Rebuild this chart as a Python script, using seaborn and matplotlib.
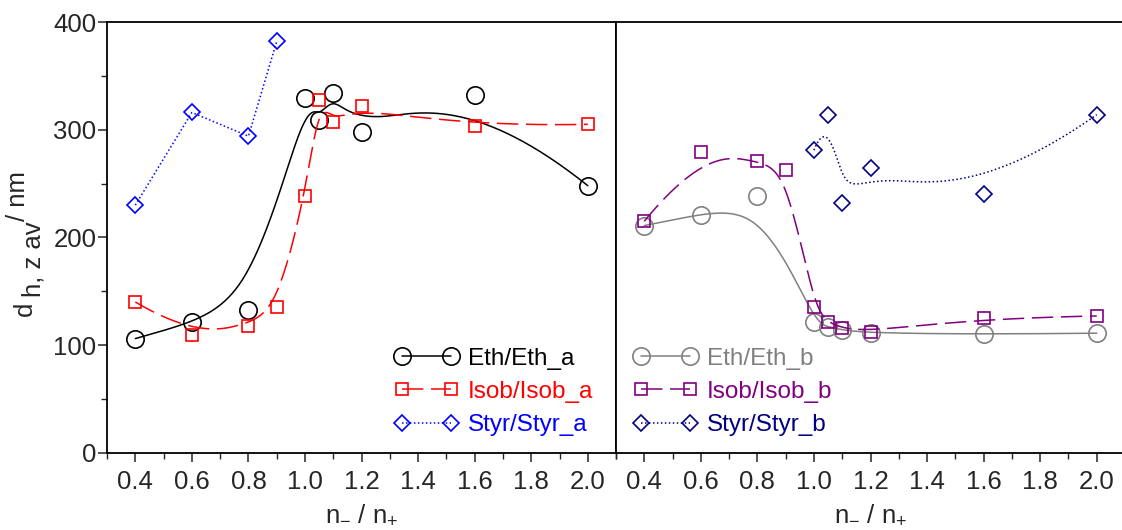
import numpy as np
import matplotlib
matplotlib.use('Agg')
import matplotlib.pyplot as plt
from matplotlib.lines import Line2D
from matplotlib.ticker import MultipleLocator
import seaborn as sns

# ─── Data ────────────────────────────────────────────────────────────────────
x_eth_a = [0.4, 0.6, 0.8, 1.0, 1.05, 1.1, 1.2, 1.6, 2.0]
d_eth_a = [106, 121, 133, 329, 309, 334, 298, 332, 248]
x_isob_a = [0.4, 0.6, 0.8, 0.9, 1.0, 1.05, 1.1, 1.2, 1.6, 2.0]
d_isob_a = [140, 109, 118, 135, 238, 328, 307, 322, 303, 305]
x_styr_a = [0.4, 0.6, 0.8, 0.9]
d_styr_a = [230, 316, 294, 382]

x_eth_b = [0.4, 0.6, 0.8, 1.0, 1.05, 1.1, 1.2, 1.6, 2.0]
d_eth_b = [211, 221, 238, 121, 117, 114, 111, 110, 111]
x_isob_b = [0.4, 0.6, 0.8, 0.9, 1.0, 1.05, 1.1, 1.2, 1.6, 2.0]
d_isob_b = [215, 279, 271, 263, 135, 121, 116, 112, 125, 127]
x_styr_b = [1.0, 1.05, 1.1, 1.2, 1.6, 2.0]
d_styr_b = [281, 314, 232, 264, 240, 314]

x_ticks = [0.4, 0.6, 0.8, 1.0, 1.2, 1.4, 1.6, 1.8, 2.0]
y_ticks = [0, 100, 200, 300, 400]


# B-spline connection (data points used as control points)
def bspline(x, y, n=400, k=3):
    pts = np.column_stack([x, y]).astype(float)
    m = len(pts)
    k = min(k, m - 1)
    knots = np.r_[np.zeros(k), np.arange(m - k + 1), np.full(k, m - k)].astype(float)
    t = np.linspace(0, m - k, n)
    B = np.array([(knots[i] <= t) & (t < knots[i + 1])
                  for i in range(len(knots) - 1)], float).T
    B[-1, m - 1] = 1.0
    for d in range(1, k + 1):
        nb = np.zeros((n, len(knots) - 1 - d))
        for i in range(len(knots) - 1 - d):
            a = knots[i + d] - knots[i]
            b = knots[i + d + 1] - knots[i + 1]
            if a > 0:
                nb[:, i] += (t - knots[i]) / a * B[:, i]
            if b > 0:
                nb[:, i] += (knots[i + d + 1] - t) / b * B[:, i + 1]
        B = nb
    c = B @ pts
    return c[:, 0], c[:, 1]


# ─── Style ────────────────────────────────────────────────────────────────────
sns.set_theme(style='ticks')
plt.rcParams.update({
    'font.family': ['Liberation Sans', 'DejaVu Sans'],
    'mathtext.fontset': 'custom',
    'mathtext.rm': 'Liberation Sans',
    'mathtext.it': 'Liberation Sans',
    'axes.linewidth': 1.3,
    'axes.edgecolor': 'black',
})

FS = 18.5
DASH = (14, 5)
DOT = (1, 1.6)

series_a = [
    ('Eth/Eth_a', x_eth_a, d_eth_a, 'black', 'o', 12.5, '-', None, True),
    ('Isob/Isob_a', x_isob_a, d_isob_a, '#FF0000', 's', 8.5, '--', DASH, True),
    ('Styr/Styr_a', x_styr_a, d_styr_a, '#0000FF', 'D', 8.2, ':', DOT, False),
]
series_b = [
    ('Eth/Eth_b', x_eth_b, d_eth_b, '#808080', 'o', 12.5, '-', None, True),
    ('Isob/Isob_b', x_isob_b, d_isob_b, '#800080', 's', 8.5, '--', DASH, True),
    ('Styr/Styr_b', x_styr_b, d_styr_b, '#000080', 'D', 8.2, ':', DOT, True),
]

fig = plt.figure(figsize=(11.22, 5.30), dpi=100)
ax1 = fig.add_axes([0.0954, 0.1458, 0.4537, 0.8126])
ax2 = fig.add_axes([0.549, 0.1458, 0.4537, 0.8126])

for ax, series in [(ax1, series_a), (ax2, series_b)]:
    handles = []
    for label, xs, ys, c, mk, ms, ls, dash, smooth in series:
        if smooth:
            cx, cy = bspline(xs, ys)
        else:
            cx, cy = np.array(xs, float), np.array(ys, float)
        kw = dict(dashes=dash) if dash else {}
        sns.lineplot(x=cx, y=cy, ax=ax, sort=False, estimator=None, color=c,
                     linewidth=1.1, **kw)
        sns.lineplot(x=xs, y=ys, ax=ax, sort=False, estimator=None,
                     linestyle='none', marker=mk, markersize=ms,
                     markerfacecolor='none', markeredgecolor=c,
                     markeredgewidth=1.2, color=c)
        h = Line2D([], [], color=c, linewidth=1.1, marker=mk, markersize=ms,
                   markerfacecolor='none', markeredgecolor=c, markeredgewidth=1.2)
        if dash:
            h.set_dashes(dash)
        handles.append((h, label))
    ax.set_xlim(0.3, 2.1)
    ax.set_ylim(0, 400)
    ax.set_xticks(x_ticks)
    ax.set_xticklabels([f'{v:.1f}' for v in x_ticks])
    ax.xaxis.set_minor_locator(MultipleLocator(0.1))
    ax.tick_params(axis='x', which='major', direction='out', length=6.5, width=1.1,
                   labelsize=FS, pad=6, top=False)
    ax.tick_params(axis='x', which='minor', direction='out', length=4, width=1.0,
                   top=False)
    ax.set_xlabel(r'$\mathregular{n_{-}\ /\ n_{+}}$', fontsize=FS, labelpad=6)
    ax.set_ylabel('')
    for s in ax.spines.values():
        s.set_visible(True)
        s.set_linewidth(1.3)
    leg = ax.legend([h for h, _ in handles], [l for _, l in handles],
                    numpoints=2, frameon=False, fontsize=17.5, handlelength=2.6,
                    handletextpad=0.41, labelspacing=0.46, borderpad=0,
                    borderaxespad=0, labelcolor='linecolor', loc='center left',
                    bbox_transform=fig.transFigure,
                    bbox_to_anchor=((394.7 if ax is ax1 else 633.7) / 1122,
                                    1 - 392 / 530))

ax1.set_yticks(y_ticks)
ax1.set_yticklabels([str(v) for v in y_ticks])
ax1.yaxis.set_minor_locator(MultipleLocator(50))
ax1.tick_params(axis='y', which='major', direction='out', length=6.5, width=1.1,
                labelsize=FS, pad=1, right=False)
ax1.tick_params(axis='y', which='minor', direction='out', length=4, width=1.0,
                right=False)
ax2.tick_params(axis='y', which='both', left=False, right=False, labelleft=False)

# y label: d with full-size lowered subscript and raised unit
lab = dict(rotation=90, rotation_mode='anchor', ha='left', va='baseline', fontsize=FS)
fig.text(32 / 1122, 1 - 316 / 530, 'd', **lab)
fig.text(41 / 1122, 1 - 297 / 530, 'h, z av', **lab)
fig.text(25 / 1122, 1 - 221 / 530, '/ nm', **lab)

fig.savefig('out.png', dpi=100)
